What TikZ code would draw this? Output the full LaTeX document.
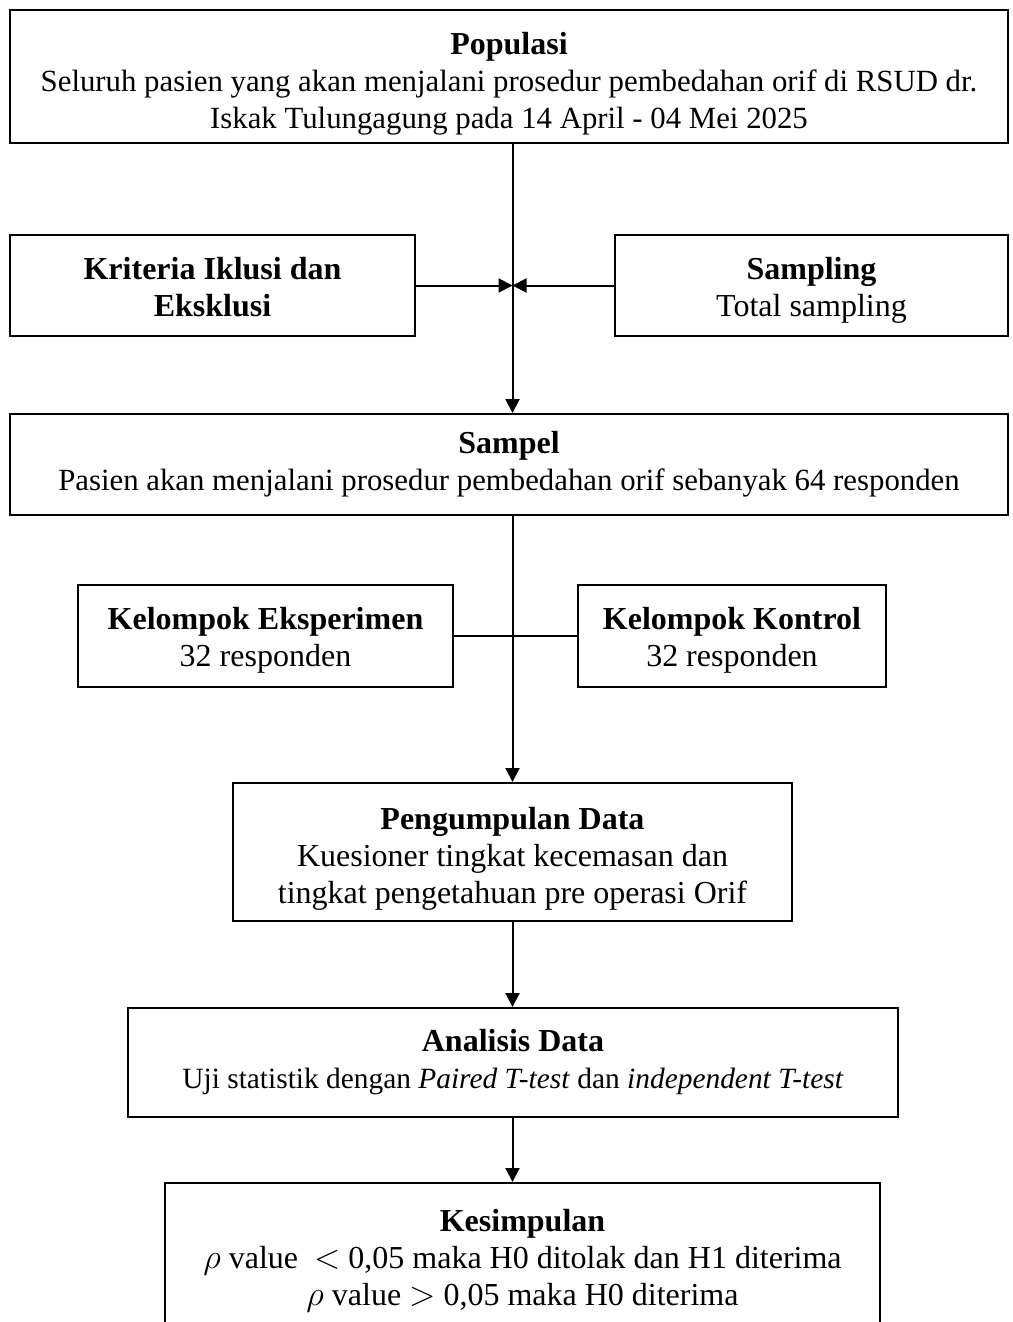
\documentclass[tikz,border=0pt]{standalone}
\usepackage{fontspec}
\setmainfont{Liberation Serif}
\usetikzlibrary{positioning,calc,arrows.meta}

\newcommand{\kecil}{\fontsize{15.4}{18.5}\selectfont}
\newcommand{\turun}[1]{\rule{0pt}{#1}}

\tikzset{
    kotak/.style={draw, line width=1pt, align=center, inner sep=0pt,
        font=\fontsize{16}{18.5}\selectfont},
    panah/.style={line width=1pt, -{Triangle[length=7pt,width=7pt]}},
    garis/.style={line width=1pt}
}

\begin{document}
\begin{tikzpicture}[x=0.5pt, y=-0.5pt]
    \useasboundingbox (0,0) rectangle (1012,1322);

    % kotak utama
    \node[kotak, minimum width=499pt, minimum height=66.5pt] (pop) at (509,76.5)
        {\turun{18pt}\textbf{Populasi}\\{\kecil Seluruh pasien yang akan menjalani prosedur pembedahan orif di RSUD dr.}\\{\kecil Iskak Tulungagung pada 14 April - 04 Mei 2025}};
    \node[kotak, minimum width=202.5pt, minimum height=50.5pt] (krit) at (212.5,285.5)
        {\turun{13pt}\textbf{Kriteria Iklusi dan}\\\textbf{Eksklusi}};
    \node[kotak, minimum width=196.5pt, minimum height=50.5pt] (samp) at (811.5,285.5)
        {\turun{16pt}\textbf{Sampling}\\Total sampling};
    \node[kotak, minimum width=499pt, minimum height=50.5pt] (sampel) at (509,464.5)
        {\textbf{Sampel}\\{\kecil Pasien akan menjalani prosedur pembedahan orif sebanyak 64 responden}};
    \node[kotak, minimum width=187.5pt, minimum height=51pt] (eksp) at (265.5,636)
        {\turun{15pt}\textbf{Kelompok Eksperimen}\\32 responden};
    \node[kotak, minimum width=154pt, minimum height=51pt] (kontrol) at (732,636)
        {\turun{15pt}\textbf{Kelompok Kontrol}\\32 responden};
    \node[kotak, minimum width=279.5pt, minimum height=69pt] (kumpul) at (512.5,852)
        {\turun{18pt}\textbf{Pengumpulan Data}\\Kuesioner tingkat kecemasan dan\\tingkat pengetahuan pre operasi Orif};
    \node[kotak, minimum width=385pt, minimum height=54.5pt] (analisis) at (513,1062.5)
        {\textbf{Analisis Data}\\{\fontsize{14.7}{18.5}\selectfont Uji statistik dengan \textit{Paired T-test} dan \textit{independent T-test}}};
    \node[kotak, minimum width=357.5pt, minimum height=70.5pt] (simpul) at (522.5,1253.5)
        {\turun{18pt}\textbf{Kesimpulan}\\$\rho$ value \ $<$ 0,05 maka H0 ditolak dan H1 diterima\\$\rho$ value $>$ 0,05 maka H0 diterima};

    % penghubung
    \draw[panah] (pop.south -| kumpul.north) -- (sampel.north -| kumpul.north);
    \draw[panah] (krit.east) -- (krit.east -| kumpul.north);
    \draw[panah] (samp.west) -- (samp.west -| kumpul.north);
    \draw[garis] (eksp.east) -- (kontrol.west);
    \draw[panah] (sampel.south -| kumpul.north) -- (kumpul.north);
    \draw[panah] (kumpul.south) -- (kumpul.south |- analisis.north);
    \draw[panah] (analisis.south -| kumpul.south) -- (simpul.north -| kumpul.south);

\end{tikzpicture}
\end{document}
